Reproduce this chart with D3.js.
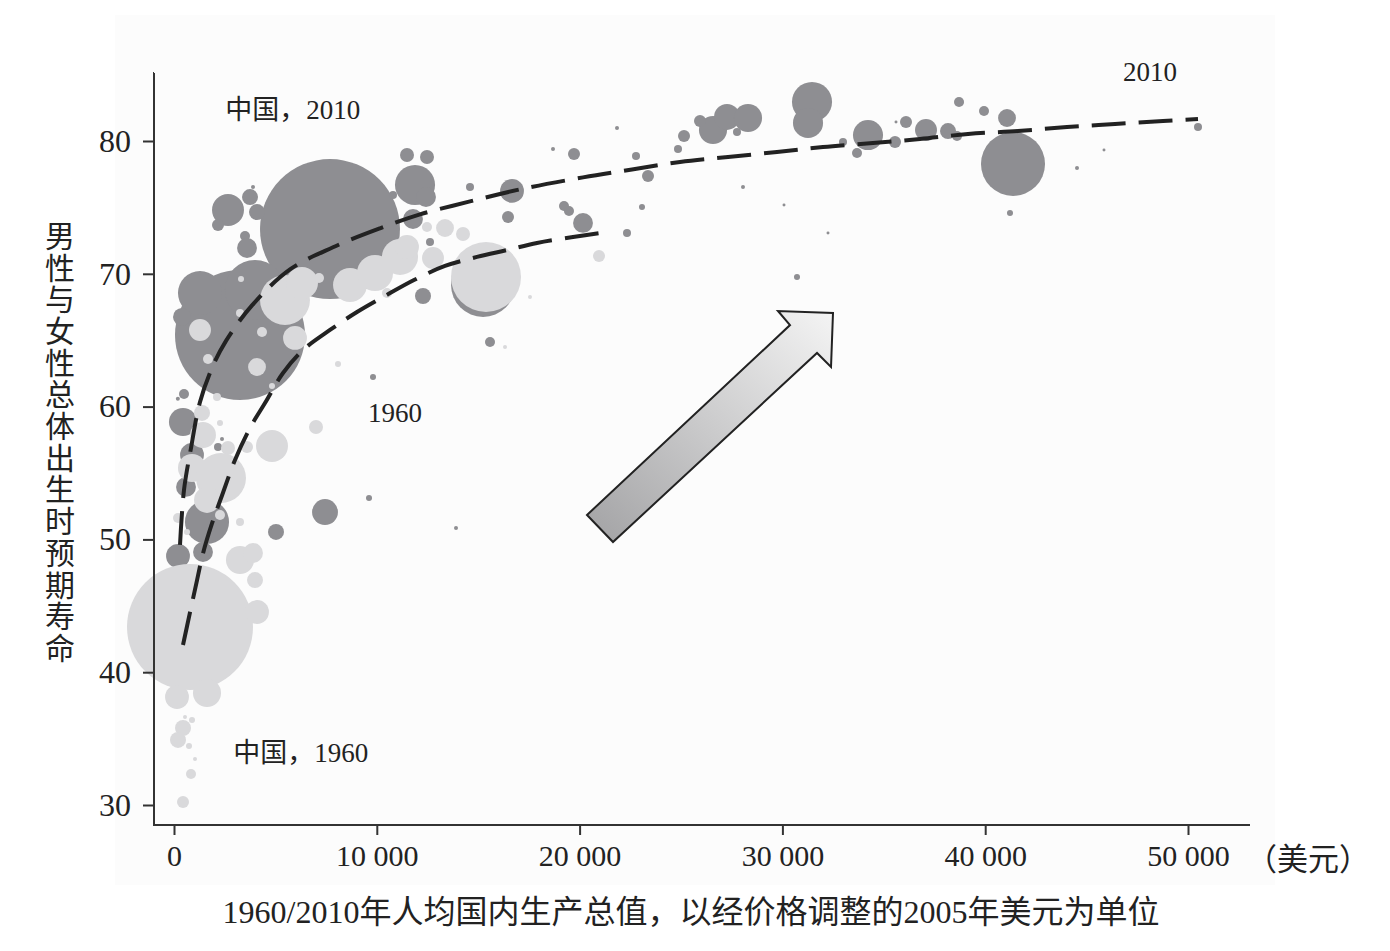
<!DOCTYPE html>
<html><head><meta charset="utf-8">
<script src="https://cdn.jsdelivr.net/npm/d3@7"></script>
<style>
html,body{margin:0;padding:0;background:#fff;}
svg{display:block;}
text{font-family:"Liberation Serif","Noto Sans CJK SC",serif;fill:#222;}
</style></head>
<body>
<svg id="chart" width="1390" height="951"></svg>
<script>
// ---- data: GDP per capita (2005 $), life expectancy (years), population (millions) ----
const gdp2010 = [7692,3254,1282,3994,394,2663,3748,4093,2170,3501,3600,3896,11489,12475,11884,12426,10799,11785,14596,12623,12278,16667,16470,15582,18689,19724,19231,19477,20168,22337,21844,22781,23373,23077,24852,25148,26578,25937,27268,28304,27761,31460,31263,34221,33679,32989,35553,35602,36095,37081,38166,38610,38709,39941,41075,41371,41223,44527,45858,50493,28057,30079,32249,30720,493,444,888,592,1627,197,1430,2170,2367,5030,7446,9616,13906,9813,15240,190];
const life2010 = [73.37,65.39,68.55,68.78,66.75,74.80,75.78,74.65,73.67,72.85,71.94,76.54,78.95,78.80,76.69,75.78,75.93,74.13,76.54,72.39,68.33,76.24,74.28,64.86,79.40,79.02,75.11,74.73,73.83,73.07,80.98,78.87,77.36,75.03,79.40,80.38,80.83,81.51,81.81,81.73,80.68,82.94,81.36,80.45,79.10,79.92,79.92,81.43,81.43,80.83,80.75,80.38,82.94,82.26,81.73,78.27,74.58,77.97,79.32,81.05,76.54,75.18,73.07,69.76,60.95,58.84,56.36,53.95,51.31,48.75,49.05,56.96,57.56,50.56,52.06,53.12,50.86,62.23,69.16,60.6];
const pop2010 = [1343,1158,133,247,22,70,17.5,17.5,9.9,6.9,27,1.1,13.4,13.4,110,27,4.4,27,4.4,4.4,17.5,39,9.9,6.9,1.1,9.9,6.9,6.9,27,4.4,1.1,4.4,9.9,2.5,4.4,9.9,54,9.9,46,54,4.4,110,62,62,6.9,4.4,9.9,0.6,9.9,33,17.5,6.9,6.9,6.9,22,281,2.5,1.1,0.6,4.4,1.1,0.6,0.6,2.5,6.9,54,39,27,133,39,27,4.4,1.1,17.5,46,2.5,1.1,2.5,281,1.1];

const gdp1960 = [789,148,1627,4093,444,197,888,542,740,1036,838,444,3254,3896,3994,1381,2268,1430,4832,3600,2663,888,2318,1627,197,2268,3254,641,7002,1282,1677,4093,3254,4339,3304,2120,4832,5473,5967,6312,7150,8679,9911,11144,11489,12771,12475,13363,14251,15385,20957,17554,16322,10503,8087];
const life1960 = [43.40,38.13,38.43,44.53,35.80,34.90,36.40,36.63,34.45,33.46,32.33,30.22,48.45,48.98,46.94,59.52,58.77,57.86,57.03,56.96,56.88,55.38,54.62,52.97,51.61,51.84,51.31,50.56,58.46,65.77,63.58,62.98,67.05,65.62,69.61,60.72,61.55,68.03,65.17,69.31,69.68,69.16,70.06,71.27,72.02,71.19,73.52,73.45,73.00,69.76,71.34,68.25,64.49,68.55,63.21];
const pop1960 = [1088,39,54,39,17.5,17.5,2.5,1.1,2.5,1.1,6.9,9.9,54,27,17.5,17.5,2.5,46,70,9.9,13.4,54,171,46,6.9,6.9,4.4,2.5,13.4,33,6.9,22,4.4,6.9,2.5,4.4,2.5,171,39,70,6.9,79,89,89,39,33,6.9,22,13.4,336,9.9,1.1,1.1,6.9,2.5];

// trend curves
const trendGdp2010 = [296,493,838,1282,1874,2564,3846,5720,7840,10158,12130,14596,17061,20168,22584,24951,27318,29734,32002,34467,36785,39152,41617,44034,46400,48767,50493];
const trendLife2010 = [49.58,53.72,56.88,60.35,62.91,64.95,67.62,70.33,72.0,73.42,74.47,75.45,76.36,77.26,77.86,78.42,78.80,79.17,79.55,79.85,80.15,80.53,80.75,81.05,81.28,81.51,81.66];
const trendGdp1960 = [444,789,1134,1430,1874,2367,3008,3748,4487,5375,6361,7692,9024,10404,11834,13363,14941,16420,17899,19675,21006];
const trendLife1960 = [42.05,44.50,46.91,48.95,51.2,53.31,55.98,58.39,60.27,62.53,64.26,65.77,67.12,68.33,69.53,70.59,71.27,71.79,72.32,72.77,73.07];

const xTicks = [0,10000,20000,30000,40000,50000];
const xTickLabels = ["0","10 000","20 000","30 000","40 000","50 000"];
const yTicks = [30,40,50,60,70,80];

// arrow outline in data units (gdp, life)
const arrowGdp = [20365,30375,29783,32495,32397,31707,21647];
const arrowLife = [51.84,66.14,67.20,67.05,62.98,64.04,49.80];

const labels = [
  {text:"中国，2010", gdp:2530, life:82.4},
  {text:"中国，1960", gdp:2920, life:34.0},
  {text:"1960", gdp:9560, life:59.55},
  {text:"2010", gdp:46800, life:85.25}
];

// ---- scales ----
const svg = d3.select("#chart");
const x = d3.scaleLinear().domain([0,50000]).range([174,1188]);
const y = d3.scaleLinear().domain([30,80]).range([805,141]);
const r = d3.scaleSqrt().domain([0,1343]).range([0,70]);

const defs = svg.append("defs");
const grad = defs.append("linearGradient").attr("id","arrowGrad")
  .attr("x1","0").attr("y1","1").attr("x2","1").attr("y2","0");
grad.append("stop").attr("offset","0%").attr("stop-color","#a2a2a4");
grad.append("stop").attr("offset","100%").attr("stop-color","#f4f4f4");

// faint plot background
svg.append("rect").attr("x",115).attr("y",15).attr("width",1160).attr("height",870).attr("fill","#fcfcfc");

// bubbles
const d2010 = gdp2010.map((g,i)=>({g, l:life2010[i], p:pop2010[i]}));
const d1960 = gdp1960.map((g,i)=>({g, l:life1960[i], p:pop1960[i]}));
svg.append("g").selectAll("circle").data(d2010).join("circle")
  .attr("cx",d=>x(d.g)).attr("cy",d=>y(d.l)).attr("r",d=>r(d.p))
  .attr("fill","#8e8e92");
svg.append("g").selectAll("circle").data(d1960).join("circle")
  .attr("cx",d=>x(d.g)).attr("cy",d=>y(d.l)).attr("r",d=>r(d.p))
  .attr("fill","#d9d9db");

// trend lines
const line = d3.line().x(d=>x(d[0])).y(d=>y(d[1])).curve(d3.curveCatmullRom.alpha(0.5));
[[trendGdp2010,trendLife2010],[trendGdp1960,trendLife1960]].forEach(([gs,ls])=>{
  svg.append("path").datum(gs.map((g,i)=>[g,ls[i]]))
    .attr("d",line).attr("fill","none").attr("stroke","#222")
    .attr("stroke-width",4).attr("stroke-dasharray","34,13");
});

// arrow
svg.append("path")
  .attr("d", "M" + arrowGdp.map((g,i)=>x(g)+","+y(arrowLife[i])).join("L") + "Z")
  .attr("fill","url(#arrowGrad)").attr("stroke","#222").attr("stroke-width",2).attr("stroke-linejoin","miter");

// axes
const yAxis = d3.axisLeft(y).tickValues(yTicks).tickSize(11).tickPadding(12);
const gy = svg.append("g").attr("transform","translate(154,0)").call(yAxis);
gy.select(".domain").remove();
gy.append("line").attr("x1",0).attr("x2",0).attr("y1",73).attr("y2",826).attr("stroke","#333").attr("stroke-width",2);
gy.append("line").attr("x1",-1).attr("x2",0).attr("y1",73).attr("y2",73).attr("stroke","#333").attr("stroke-width",2);
gy.selectAll(".tick line").attr("stroke","#333").attr("stroke-width",2);
gy.selectAll(".tick text").style("font-size","32px").attr("fill","#222")
  .style("font-family","'Liberation Serif',serif");

const xAxis = d3.axisBottom(x).tickValues(xTicks).tickFormat((d,i)=>xTickLabels[i]).tickSize(10).tickPadding(10);
const gx = svg.append("g").attr("transform","translate(0,825)").call(xAxis);
gx.select(".domain").remove();
gx.append("line").attr("x1",153).attr("x2",1250).attr("y1",0).attr("y2",0).attr("stroke","#333").attr("stroke-width",2);
gx.selectAll(".tick line").attr("stroke","#333").attr("stroke-width",2);
gx.selectAll(".tick text").style("font-size","30px").attr("fill","#222")
  .style("font-family","'Liberation Serif',serif");

svg.append("text").attr("x",1246).attr("y",870).style("font-size","31px").text("（美元）");

// axis titles
svg.append("text").attr("x",691).attr("y",923).attr("text-anchor","middle")
  .style("font-size","32px").text("1960/2010年人均国内生产总值，以经价格调整的2005年美元为单位");

const yTitle = "男性与女性总体出生时预期寿命";
svg.append("g").selectAll("text").data(Array.from(yTitle)).join("text")
  .attr("x",60).attr("y",(d,i)=>236 + i*31.7).attr("dy","0.36em")
  .attr("text-anchor","middle").style("font-size","30px").text(d=>d);

// annotations
svg.append("g").selectAll("text").data(labels).join("text")
  .attr("x",d=>x(d.gdp)).attr("y",d=>y(d.life)).attr("dy","0.36em")
  .style("font-size","27px").text(d=>d.text);
</script>
</body></html>
